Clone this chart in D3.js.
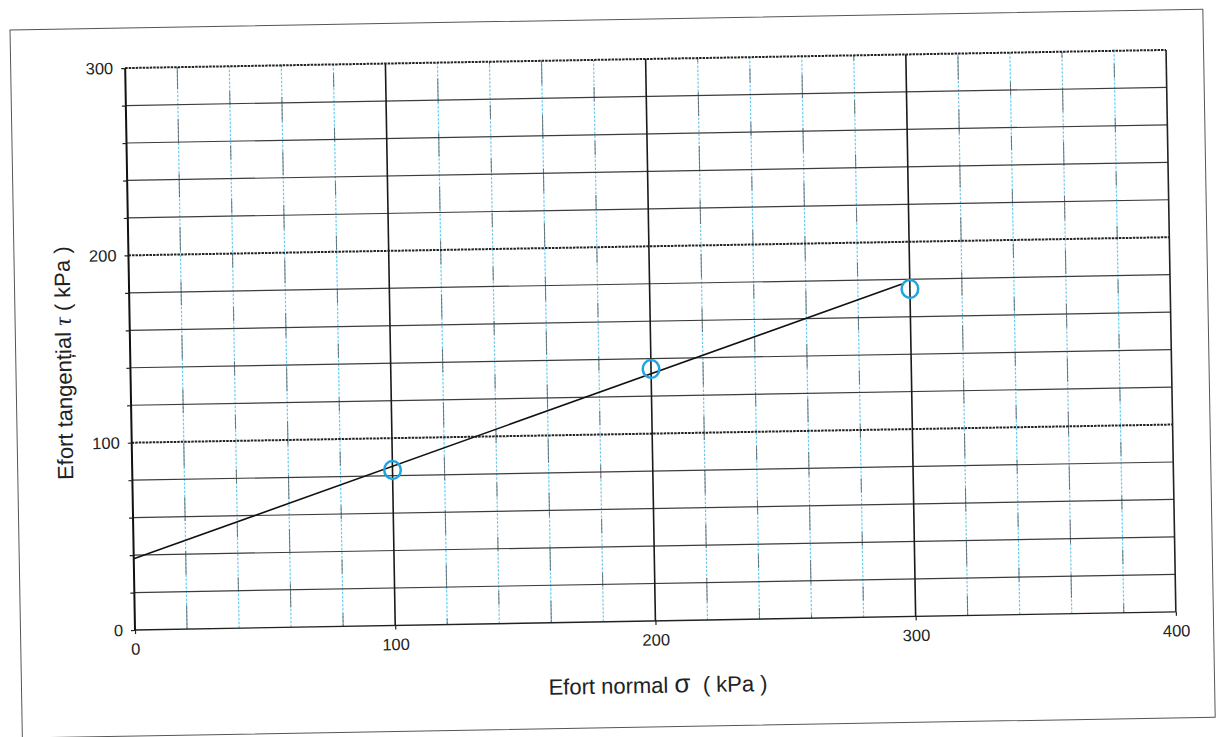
<!DOCTYPE html>
<html><head><meta charset="utf-8">
<script src="https://cdn.jsdelivr.net/npm/d3@7"></script>
<style>
body{margin:0;background:#fff}
svg{display:block}
text{font-family:"Liberation Sans",Arial,sans-serif;fill:#222}
</style>
</head><body>
<svg id="c" width="1216" height="737"></svg>
<script>
// ---- data ----
const xTicks = [0, 100, 200, 300, 400];          // σ (kPa)
const yTicks = [0, 100, 200, 300];               // τ (kPa)
const sigma  = [100, 200, 300];                  // normal stress of tests
const tau    = [83, 134.5, 174.8];               // measured shear stress
const fitSigma = [0, 297];                       // trend line ends
const fitTau   = [38, 177.5];
const xTitle = ["Efort normal ", "σ", "  ( kPa )"];
const yTitle = ["Efort tangențial ", "τ", " ( kPa )"];

// ---- layout ----
const svg = d3.select("#c");
const PW = 1041, PH = 562;
const x = d3.scaleLinear().domain([0, 400]).range([0, PW]);
const y = d3.scaleLinear().domain([0, 300]).range([0, -PH]);
const minorStep = 20;

const g = svg.append("g").attr("transform", "translate(135,630) rotate(-1)");

// scanned page frame
g.append("rect").attr("x", -114.5).attr("y", -602).attr("width", 1193).attr("height", 708)
  .attr("fill", "none").attr("stroke", "#555").attr("stroke-width", 1);

// minor vertical grid (blue dotted with dark dashes)
const minorX = d3.range(minorStep, 400, minorStep).filter(v => v % 100 !== 0);
g.append("g").selectAll("line").data(minorX).join("line")
  .attr("x1", d => x(d)).attr("x2", d => x(d)).attr("y1", y(0)).attr("y2", y(300))
  .attr("stroke", "#6ccaf0").attr("stroke-width", 1.2).attr("stroke-dasharray", "2.5,1.5");
g.append("g").selectAll("line").data(minorX).join("line")
  .attr("x1", d => x(d)).attr("x2", d => x(d)).attr("y1", y(0)).attr("y2", y(300))
  .attr("stroke", "#555").attr("stroke-width", 1).attr("stroke-dasharray", (d, i) => i % 2 ? "14,40" : "24,30")
  .attr("stroke-dashoffset", (d, i) => (i * 17) % 50).attr("opacity", 0.75);

// minor horizontal grid
const minorY = d3.range(minorStep, 300, minorStep).filter(v => v % 100 !== 0);
g.append("g").selectAll("line").data(minorY).join("line")
  .attr("x1", x(0)).attr("x2", x(400)).attr("y1", d => y(d)).attr("y2", d => y(d))
  .attr("stroke", "#3c3c3c").attr("stroke-width", 1.2);

// major horizontal grid (dotted thick)
g.append("g").selectAll("line").data(yTicks.filter(v => v > 0)).join("line")
  .attr("x1", x(0)).attr("x2", x(400)).attr("y1", d => y(d)).attr("y2", d => y(d))
  .attr("stroke", "#222").attr("stroke-width", 2).attr("stroke-dasharray", "2.5,1");

// major vertical grid
g.append("g").selectAll("line").data(xTicks.filter(v => v > 0 && v < 400)).join("line")
  .attr("x1", d => x(d)).attr("x2", d => x(d)).attr("y1", y(0)).attr("y2", y(300))
  .attr("stroke", "#1a1a1a").attr("stroke-width", 1.6);

// plot borders
g.append("line").attr("x1", x(0)).attr("x2", x(400)).attr("y1", y(0)).attr("y2", y(0))
  .attr("stroke", "#222").attr("stroke-width", 1.4);
g.append("line").attr("x1", x(0)).attr("x2", x(0)).attr("y1", y(0)).attr("y2", y(300))
  .attr("stroke", "#111").attr("stroke-width", 2);
g.append("line").attr("x1", x(400)).attr("x2", x(400)).attr("y1", y(0)).attr("y2", y(300))
  .attr("stroke", "#222").attr("stroke-width", 1.6);

// axes
const ax = g.append("g").call(d3.axisBottom(x).tickValues(xTicks).tickSize(4).tickPadding(9));
const ay = g.append("g").call(d3.axisLeft(y).tickValues(d3.range(0, 301, minorStep))
  .tickFormat(d => yTicks.includes(d) ? d : "").tickSize(4).tickPadding(8));
[ax, ay].forEach(a => {
  a.attr("font-size", 16.5);
  a.select(".domain").remove();
  a.selectAll("line").attr("stroke", "#222").attr("stroke-width", 1.2);
  a.selectAll("text").attr("font-size", 16.5).attr("fill", "#222")
    .attr("font-family", "'Liberation Sans', Arial, sans-serif");
});

// trend line
g.append("line")
  .attr("x1", x(fitSigma[0])).attr("y1", y(fitTau[0]))
  .attr("x2", x(fitSigma[1])).attr("y2", y(fitTau[1]))
  .attr("stroke", "#111").attr("stroke-width", 1.6);

// test points
g.append("g").selectAll("ellipse").data(sigma.map((s, i) => [s, tau[i]])).join("ellipse")
  .attr("cx", d => x(d[0])).attr("cy", d => y(d[1])).attr("rx", 8.3).attr("ry", 9)
  .attr("fill", "none").attr("stroke", "#1fa3e3").attr("stroke-width", 2.5);

// axis titles
const xt = g.append("text").attr("x", 522).attr("y", 72).attr("text-anchor", "middle")
  .attr("font-size", 22).style("white-space", "pre");
xt.append("tspan").text(xTitle[0]);
xt.append("tspan").attr("font-size", 26).text(xTitle[1]);
xt.append("tspan").text(xTitle[2]);

const yt = g.append("text").attr("transform", "translate(-59,-268) rotate(-90)")
  .attr("text-anchor", "middle").attr("font-size", 22).style("white-space", "pre");
yt.append("tspan").text(yTitle[0]);
yt.append("tspan").attr("font-family", "'Liberation Serif', serif").attr("font-style", "italic")
  .attr("font-size", 24).text(yTitle[1]);
yt.append("tspan").text(yTitle[2]);
</script>
</body></html>
